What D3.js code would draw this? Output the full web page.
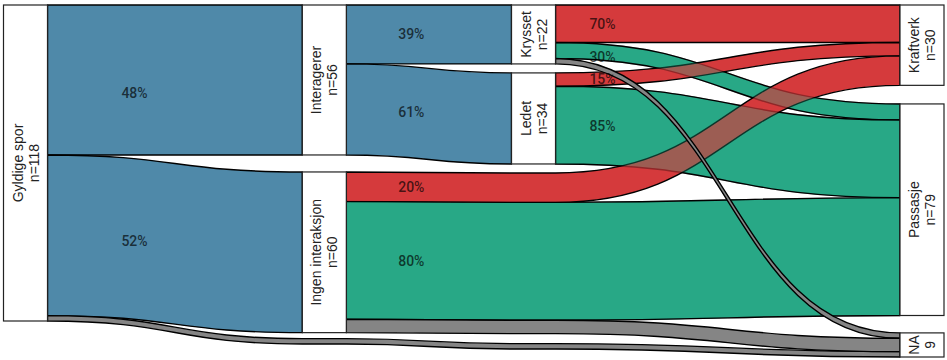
<!DOCTYPE html>
<html><head><meta charset="utf-8">
<script src="https://cdn.jsdelivr.net/npm/d3@7"></script>
<style>body{margin:0;background:#fff} svg{display:block}</style>
</head><body>
<svg id="chart" width="947" height="360"></svg>
<script>
// ---------- data ----------
const nodeNames  = ["Gyldige spor","Interagerer","Ingen interaksjon","Krysset","Ledet","Kraftverk","Passasje","NA"];
const nodeSub    = ["n=118","n=56","n=60","n=22","n=34","n=30","n=79","9"];
const nodeCounts = [118,56,60,22,34,30,79,9];
const nodeStage  = [0,1,1,2,2,3,3,3];
const stagePos   = [1,2,2.7,4];

const linkSource = [0,0,0, 1,1, 3,3,3, 4,4, 2,2,2];
const linkTarget = [1,2,7, 3,4, 5,6,7, 5,6, 5,6,7];
const linkValue  = [56,60,2, 22,34, 14,6,2, 5,29, 11,44,5];
const linkLabel  = ["48%","52%","", "39%","61%", "70%","30%","", "15%","85%", "20%","80%",""];

const categoryColor = {blue:"#4f89a9", red:"#d53a3c", green:"#28a886", gray:"#858585"};
const targetCategory = ["blue","blue","blue","blue","blue","red","green","gray"];

// ---------- layout ----------
const svg = d3.select("#chart");
const x = d3.scaleLinear().domain([1,4]).range([25.5,922]);
const boxW = 44;
const y = d3.scaleLinear().domain([0,118]).range([5,321]);
const k = v => y(v) - y(0);
const stageGaps = [[],[17,6],[9,9,10],[18.6,17.4]];
const labelDx = [87,65,47];
const labelNudgeY = [13,2,0, 0,0, 0,5,0, 0,0, 0,0,0];
const xl = s => x(stagePos[s]) - boxW/2;
const xr = s => x(stagePos[s]) + boxW/2;

const nodes = nodeNames.map((n,i)=>({i,name:n,sub:nodeSub[i],value:nodeCounts[i],stage:nodeStage[i],outOff:0,inOff:0}));
const links = linkSource.map((s,i)=>({i,src:nodes[s],tgt:nodes[linkTarget[i]],value:linkValue[i],label:linkLabel[i],
  cat:targetCategory[linkTarget[i]],way:[]}));

for (let s=0;s<4;s++){
  const items = nodes.filter(n=>n.stage===s).map(n=>({type:"node",node:n,value:n.value}));
  if (s>0){
    const passing = links.filter(l=>l.src.stage<s && l.tgt.stage>s);
    const groups = d3.groups(passing, l=>l.src.i).map(([key,ls])=>({type:"pass",links:ls,value:d3.sum(ls,l=>l.value),
      order:d3.min(ls,l=>l.way[l.way.length-1].y)}));
    groups.sort((a,b)=>a.order-b.order);
    items.push(...groups);
  }
  let yy = y(0);
  items.forEach((it,j)=>{ it.y0 = yy; if(it.type==="node") it.node.y0 = yy; yy += k(it.value) + (stageGaps[s][j]||0); });
  const arr = links.filter(l=>l.tgt.stage===s).sort((a,b)=>a.way[a.way.length-1].y - b.way[b.way.length-1].y);
  arr.forEach(l=>{ l.way.push({s, y:l.tgt.y0 + l.tgt.inOff}); l.tgt.inOff += k(l.value); });
  items.filter(it=>it.type==="pass").forEach(it=>{
    let off=0;
    it.links.slice().sort((a,b)=>a.way[a.way.length-1].y - b.way[b.way.length-1].y)
      .forEach(l=>{ l.way.push({s, y:it.y0+off}); off += k(l.value); });
  });
  nodes.filter(n=>n.stage===s).forEach(n=>{
    links.filter(l=>l.src===n).sort((a,b)=>a.tgt.i-b.tgt.i)
      .forEach(l=>{ l.way.push({s, y:n.y0+n.outOff}); n.outOff += k(l.value); });
  });
}

function linkPath(l){
  const p = l.way, h = k(l.value), n = p.length-1;
  let d = `M${xr(p[0].s)},${p[0].y}`;
  for (let i=1;i<=n;i++){
    const xa=xr(p[i-1].s), xb=xl(p[i].s), xm=(xa+xb)/2;
    d += `C${xm},${p[i-1].y} ${xm},${p[i].y} ${xb},${p[i].y}`;
    if (i<n) d += `L${xr(p[i].s)},${p[i].y}`;
  }
  d += `L${xl(p[n].s)},${p[n].y+h}`;
  for (let i=n;i>=1;i--){
    const xa=xr(p[i-1].s), xb=xl(p[i].s), xm=(xa+xb)/2;
    d += `C${xm},${p[i].y+h} ${xm},${p[i-1].y+h} ${xa},${p[i-1].y+h}`;
    if (i-1>0) d += `L${xl(p[i-1].s)},${p[i-1].y+h}`;
  }
  return d+"Z";
}

function flowCenterAt(l, px){
  const p=l.way, h=k(l.value);
  const xa=xr(p[0].s), xb=xl(p[1].s);
  let lo=0,hi=1;
  const bx=u=>{const m=(xa+xb)/2; return (1-u)**3*xa+3*(1-u)**2*u*m+3*(1-u)*u*u*m+u**3*xb;};
  for(let it=0;it<40;it++){const mid=(lo+hi)/2; if(bx(mid)<px) lo=mid; else hi=mid;}
  const u=(lo+hi)/2;
  const yy=p[0].y+(p[1].y-p[0].y)*(3*u*u-2*u*u*u);
  return yy+h/2;
}

const gFlows = svg.append("g");
const drawLinks = (sel, opacity) => gFlows.append("g").attr("opacity",opacity)
  .selectAll("path").data(sel).join("path")
  .attr("d",linkPath).attr("fill",d=>categoryColor[d.cat])
  .attr("stroke","#000").attr("stroke-width",1.4).attr("stroke-linejoin","round");

drawLinks(links.filter(l=>l.cat==="blue"),1);
drawLinks(links.filter(l=>l.cat==="green"),1);
drawLinks(links.filter(l=>l.cat==="red"),1);
drawLinks(links.filter(l=>l.cat==="green"),0.32);
drawLinks(links.filter(l=>l.cat==="gray"),1);

// flow labels
svg.append("g").selectAll("text").data(links.filter(l=>l.label)).join("text")
  .attr("x",l=>xr(l.src.stage)+labelDx[l.src.stage])
  .attr("y",l=>flowCenterAt(l, xr(l.src.stage)+labelDx[l.src.stage]) + labelNudgeY[l.i])
  .attr("text-anchor","middle").attr("dominant-baseline","central")
  .attr("font-family","Roboto, 'DejaVu Sans', sans-serif").attr("font-size",14).attr("font-weight",500)
  .attr("fill","#000").attr("fill-opacity",0.68)
  .text(l=>l.label);

// nodes
const gN = svg.append("g").selectAll("g").data(nodes).join("g")
  .attr("transform",n=>`translate(${x(stagePos[n.stage])},${n.y0+k(n.value)/2})`);
gN.append("rect").attr("x",-boxW/2).attr("width",boxW)
  .attr("y",n=>-k(n.value)/2).attr("height",n=>k(n.value))
  .attr("fill","#fff").attr("stroke","#222").attr("stroke-width",1.2);
const tg = gN.append("g").attr("transform","rotate(-90)")
  .attr("font-family","'Liberation Sans', Arial, sans-serif").attr("font-size",14).attr("fill","#222")
  .attr("text-anchor","middle");
tg.append("text").attr("y",-8).attr("dominant-baseline","central").text(n=>n.name);
tg.append("text").attr("y",8).attr("dominant-baseline","central").text(n=>n.sub);
</script>
</body></html>
